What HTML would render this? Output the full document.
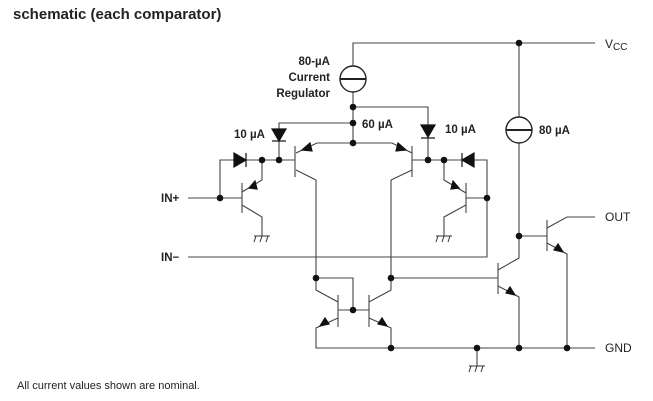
<!DOCTYPE html>
<html><head><meta charset="utf-8"><style>
html,body{margin:0;padding:0;background:#fff;}
svg{display:block;font-family:"Liberation Sans",Arial,sans-serif;}
</style></head><body>
<svg width="653" height="401" viewBox="0 0 653 401" xmlns="http://www.w3.org/2000/svg">
<defs>
<g id="gnd"><line x1="-8" y1="0" x2="8" y2="0" stroke="#333" stroke-width="1"/><line x1="-6" y1="0" x2="-8" y2="6" stroke="#333"/><line x1="0" y1="0" x2="-2" y2="6" stroke="#333"/><line x1="6" y1="0" x2="4" y2="6" stroke="#333"/></g>
</defs>
<text x="13" y="19" font-size="15" font-weight="bold" fill="#222">schematic (each comparator)</text>
<text x="17" y="389" font-size="11" fill="#222">All current values shown are nominal.</text>

<g stroke="#444" stroke-width="1.1" fill="none">
<!-- Vcc -->
<polyline points="353,66 353,43 595,43"/>
<line x1="353" y1="92" x2="353" y2="143"/>
<polyline points="353,107 428,107 428,160"/>
<polyline points="353,123 279,123 279,160"/>
<polyline points="317,143 392,143"/>
<!-- left PNP -->
<line x1="317" y1="143" x2="296" y2="153"/>
<line x1="295" y1="146" x2="295" y2="177"/>
<line x1="296" y1="170" x2="316" y2="180"/>
<line x1="316" y1="180" x2="316" y2="278"/>
<!-- right PNP -->
<line x1="392" y1="143" x2="412" y2="153"/>
<line x1="412" y1="146" x2="412" y2="177"/>
<line x1="412" y1="170" x2="391" y2="180"/>
<line x1="391" y1="180" x2="391" y2="278"/>
<!-- base left -->
<polyline points="295,160 220,160 220,198"/>
<line x1="188" y1="198" x2="242" y2="198"/>
<line x1="242" y1="183" x2="242" y2="213"/>
<polyline points="262,160 262,180 242,192"/>
<polyline points="242,205 262,217 262,236"/>
<!-- base right -->
<polyline points="412,160 487,160 487,257 188,257"/>
<line x1="487" y1="198" x2="466" y2="198"/>
<line x1="466" y1="183" x2="466" y2="213"/>
<polyline points="444,160 444,180 466,193"/>
<polyline points="466,205 444,217 444,236"/>
<!-- mirror -->
<polyline points="316,278 353,278 353,310"/>
<line x1="338" y1="310" x2="369" y2="310"/>
<line x1="338" y1="295" x2="338" y2="327"/>
<line x1="369" y1="295" x2="369" y2="327"/>
<polyline points="316,278 316,290 338,302"/>
<polyline points="391,278 391,290 369,302"/>
<polyline points="338,318 316,328 316,348 595,348"/>
<polyline points="369,318 391,328 391,348"/>
<!-- output stage -->
<line x1="391" y1="278" x2="498" y2="278"/>
<line x1="498" y1="263" x2="498" y2="294"/>
<polyline points="498,270 519,258 519,143"/>
<line x1="519" y1="117" x2="519" y2="43"/>
<polyline points="498,286 519,297 519,348"/>
<line x1="519" y1="236" x2="547" y2="236"/>
<line x1="547" y1="220" x2="547" y2="251"/>
<polyline points="547,228 567,217 595,217"/>
<polyline points="547,243 567,254 567,348"/>
<line x1="477" y1="348" x2="477" y2="366"/>
</g>
<!-- current sources -->
<g stroke="#222" stroke-width="1.4" fill="#fff">
<circle cx="353" cy="79" r="13"/>
<circle cx="519" cy="130" r="13"/>
</g>
<g stroke="#222" stroke-width="2">
<line x1="340" y1="79" x2="366" y2="79"/>
<line x1="506" y1="130" x2="532" y2="130"/>
</g>
<!-- diodes -->
<g fill="#111" stroke="#111" stroke-width="1.2">
<polygon points="272,129 286,129 279,141"/><line x1="272" y1="141" x2="286" y2="141"/>
<polygon points="421,125 435,125 428,137"/><line x1="421" y1="138" x2="435" y2="138"/>
<polygon points="234,153 234,167 246,160"/><line x1="246" y1="153" x2="246" y2="167"/>
<polygon points="474,153 474,167 462,160"/><line x1="462" y1="153" x2="462" y2="167"/>
<!-- arrows -->
<polygon points="302,150 310,143 312,151"/>
<polygon points="406,150 398,143 396,151"/>
<polygon points="249,188 255,181 257,189"/>
<polygon points="459,188 453,181 451,189"/>
<polygon points="320,326 325,318 329,324"/>
<polygon points="387,326 382,318 378,324"/>
<polygon points="515,295 510,287 506,293"/>
<polygon points="563,252 558,244 554,250"/>
</g>
<!-- dots -->
<g fill="#111">
<circle cx="519" cy="43" r="3.3"/><circle cx="353" cy="107" r="3.3"/><circle cx="353" cy="123" r="3.3"/><circle cx="353" cy="143" r="3.3"/>
<circle cx="279" cy="160" r="3.3"/><circle cx="262" cy="160" r="3.3"/><circle cx="220" cy="198" r="3.3"/>
<circle cx="428" cy="160" r="3.3"/><circle cx="444" cy="160" r="3.3"/><circle cx="487" cy="198" r="3.3"/>
<circle cx="316" cy="278" r="3.3"/><circle cx="391" cy="278" r="3.3"/><circle cx="353" cy="310" r="3.3"/>
<circle cx="391" cy="348" r="3.3"/><circle cx="477" cy="348" r="3.3"/><circle cx="519" cy="348" r="3.3"/><circle cx="567" cy="348" r="3.3"/>
<circle cx="519" cy="236" r="3.3"/>
</g>
<use href="#gnd" x="262" y="236"/>
<use href="#gnd" x="444" y="236"/>
<use href="#gnd" x="477" y="366"/>
<!-- labels -->
<g font-size="11.5" font-weight="bold" fill="#222">
<text x="330" y="65" text-anchor="end">80-µA</text>
<text x="330" y="81" text-anchor="end">Current</text>
<text x="330" y="97" text-anchor="end">Regulator</text>
<text x="362" y="128">60 µA</text>
<text x="234" y="138">10 µA</text>
<text x="445" y="133">10 µA</text>
<text x="539" y="134">80 µA</text>
<text x="161" y="202">IN+</text>
<text x="161" y="261">IN−</text>
</g>
<g font-size="12" fill="#222">
<text x="605" y="48">V<tspan font-size="10" dy="2">CC</tspan></text>
<text x="605" y="221">OUT</text>
<text x="605" y="352">GND</text>
</g>
</svg>
</body></html>
